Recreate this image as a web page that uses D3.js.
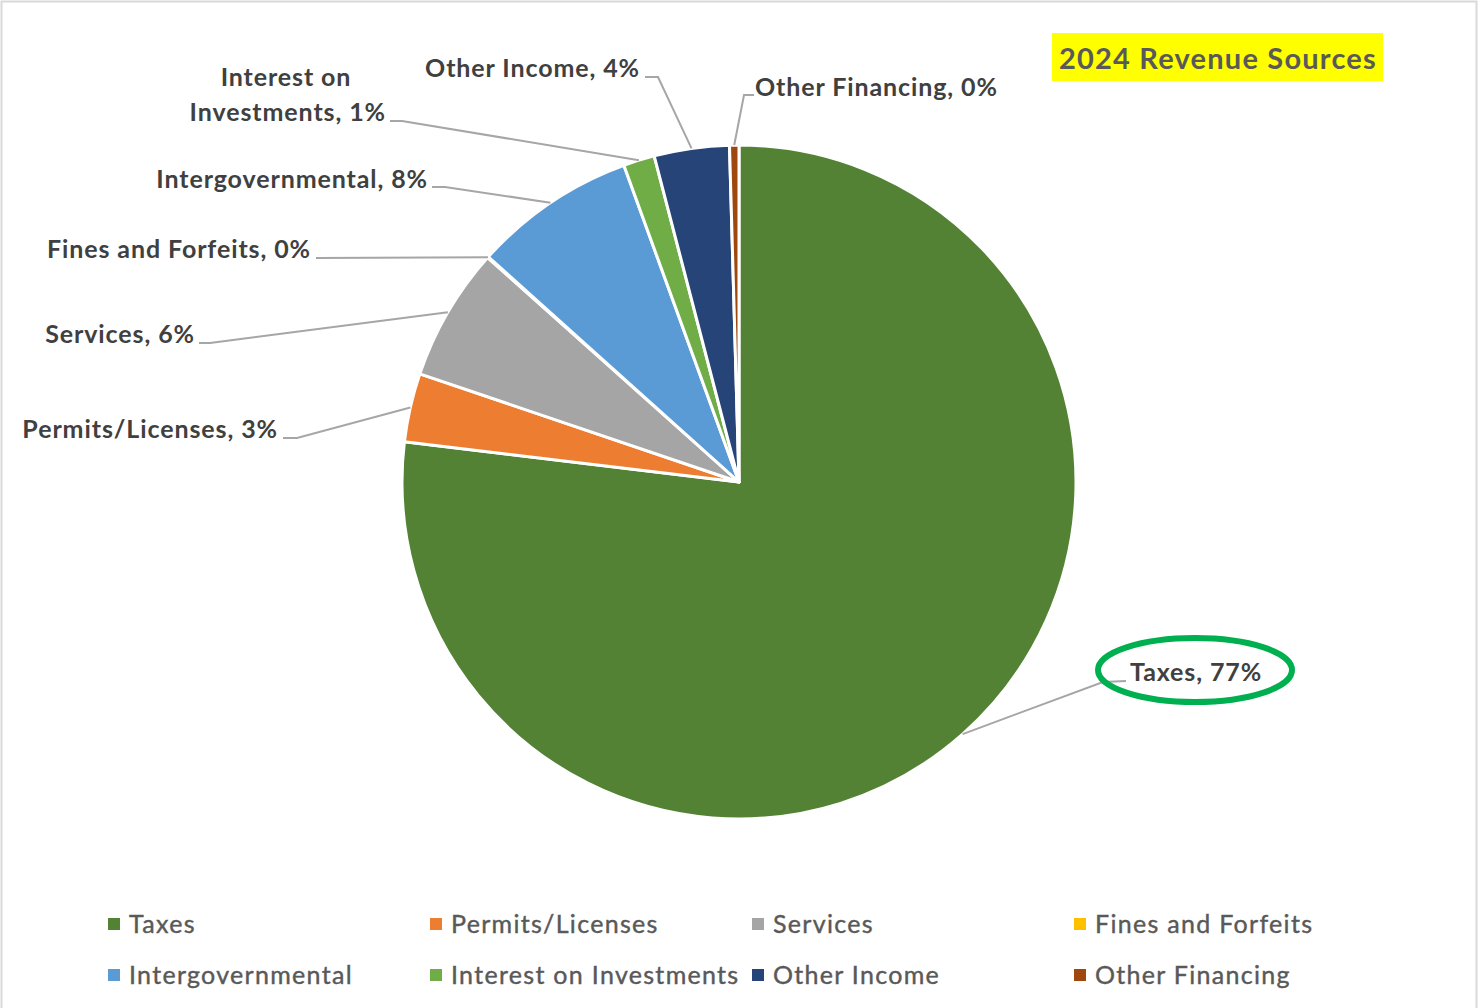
<!DOCTYPE html>
<html><head><meta charset="utf-8">
<script src="https://cdn.jsdelivr.net/npm/d3@7"></script>
<style>body{margin:0;background:#fff}svg{display:block}text{font-family:Lato,"Open Sans",sans-serif}</style>
</head><body><svg id="c" width="1478" height="1008"></svg>
<script>
const categories = ["Taxes","Permits/Licenses","Services","Fines and Forfeits","Intergovernmental","Interest on Investments","Other Income","Other Financing"];
const values = [76.9, 3.3, 6.4, 0.05, 7.8, 1.5, 3.6, 0.45];
const pctLabels = ["77%","3%","6%","0%","8%","1%","4%","0%"];
const colors = ["#548235","#ED7D31","#A5A5A5","#FFC000","#5B9BD5","#70AD47","#264478","#9E480E"];
const title = "2024 Revenue Sources";

// label layout: text anchor point, elbow and line end
const labelLayout = [
  {lines:["Taxes, 77%"], x:1130, y:681, anchor:"start", elbow:[1103,682], end:[1126,681]},
  {lines:["Permits/Licenses, 3%"], x:278, y:438, anchor:"end", elbow:[297,438], end:[283,438]},
  {lines:["Services, 6%"], x:195, y:343, anchor:"end", elbow:[210,343], end:[199,343]},
  {lines:["Fines and Forfeits, 0%"], x:311, y:258, anchor:"end", elbow:[316,258], end:[316,258]},
  {lines:["Intergovernmental, 8%"], x:428, y:188, anchor:"end", elbow:[445,187], end:[432,187]},
  {lines:["Interest on","Investments, 1%"], x:386, y:121, anchor:"end", centerX:286, elbow:[402,121], end:[390,121]},
  {lines:["Other Income, 4%"], x:640, y:77, anchor:"end", elbow:[658,77], end:[645,77]},
  {lines:["Other Financing, 0%"], x:755, y:96, anchor:"start", elbow:[744,95], end:[754,95]}
];

const svg = d3.select("#c");
svg.append("rect").attr("x",1.5).attr("y",1.5).attr("width",1475).attr("height",1020)
  .attr("fill","#fff").attr("stroke","#d9d9d9").attr("stroke-width",2);

const cx = 739, cy = 482, R = 337;
const data = categories.map((c,i)=>({name:c,value:values[i],color:colors[i],i}));
const pie = d3.pie().value(d=>d.value).sort(null);
const arcs = pie(data);
const arc = d3.arc().innerRadius(0).outerRadius(R);
const g = svg.append("g").attr("transform",`translate(${cx},${cy})`);
g.selectAll("path").data(arcs).join("path")
  .attr("d",arc).attr("fill",d=>d.data.color)
  .attr("stroke","#fff").attr("stroke-width",3).attr("stroke-linejoin","round");

// leader lines
const edgeArc = d3.arc().innerRadius(R).outerRadius(R);
arcs.forEach((a,i)=>{
  const L = labelLayout[i];
  const p = edgeArc.centroid(a);
  const pts = [[cx+p[0],cy+p[1]], L.elbow, L.end];
  svg.append("path").attr("d",d3.line()(pts)).attr("fill","none")
    .attr("stroke","#A6A6A6").attr("stroke-width",2);
});

// labels
function lbl(x,y,anchor,t){
  return svg.append("text").attr("x",x).attr("y",y).attr("text-anchor",anchor)
    .attr("font-size",25).attr("font-weight","bold").attr("fill","#404040")
    .attr("letter-spacing","0.9px").attr("xml:space","preserve").text(t);
}
labelLayout.forEach((L,i)=>{
  if(L.lines.length===1){
    lbl(L.x,L.y,L.anchor,L.lines[0]);
  } else {
    lbl(L.centerX,L.y-35,"middle",L.lines[0]);
    lbl(L.x,L.y,"end",L.lines[1]);
  }
});

// Taxes highlight ellipse
svg.append("ellipse").attr("cx",1195).attr("cy",670).attr("rx",97).attr("ry",32)
  .attr("fill","none").attr("stroke","#00B050").attr("stroke-width",6);

// title
svg.append("rect").attr("x",1052).attr("y",33).attr("width",331).attr("height",48).attr("fill","#FFFF00");
svg.append("text").attr("x",1218).attr("y",69).attr("text-anchor","middle")
  .attr("font-size",29).attr("font-weight","bold").attr("fill","#595959")
  .attr("letter-spacing","1.2px").text(title);

// legend
const colX = [108,430,752,1074], rowY = [924,975];
data.forEach((d,i)=>{
  const x = colX[i%4], y = rowY[Math.floor(i/4)];
  svg.append("rect").attr("x",x).attr("y",y-6).attr("width",12).attr("height",12).attr("fill",d.color);
  svg.append("text").attr("x",x+21).attr("y",y+9).attr("font-size",25).attr("fill","#595959")
    .attr("letter-spacing","1.3px").attr("stroke","#595959").attr("stroke-width",0.4)
    .text(d.name);
});
</script></body></html>
